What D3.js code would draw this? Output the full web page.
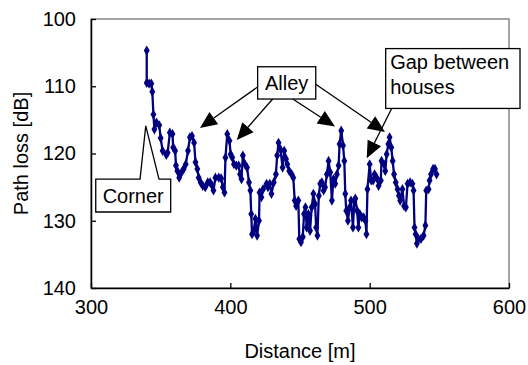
<!DOCTYPE html>
<html>
<head>
<meta charset="utf-8">
<script src="https://cdn.jsdelivr.net/npm/d3@7"></script>
<style>
  html, body { margin: 0; padding: 0; background: #fff; }
  svg { display: block; font-family: "Liberation Sans", Arial, sans-serif; }
</style>
</head>
<body>
<svg id="chart" width="528" height="365"></svg>
<script>
// measured path loss along the route
const distance = [
  340, 340, 341.7, 343.3, 344, 344.8, 345.5, 347, 349, 350, 351.4, 354, 355, 356.6, 358.5, 359,
  360.4, 361, 362, 363.3, 365, 366.5, 368, 369.6, 371, 372.5, 374, 375, 376.3, 377.3, 378.7, 380.2,
  382, 383.8, 385.5, 387, 387.9, 389.3, 391.7, 393.4, 394.6, 395.8, 396.5, 397.8, 399.4, 400.2,
  401.4, 402.6, 404.3, 406, 407, 408, 409, 410.5, 412, 413.4, 414.4, 415, 415.6, 416.8, 418, 419.2,
  420.6, 421, 422.3, 423.5, 426, 427, 428.3, 429.5, 431.2, 432.7, 433.6, 434.6, 436, 437.5, 438.7,
  440, 440.9, 442.3, 444, 445.2, 446.2, 447.2, 448.8, 449.5, 450.7, 452, 452.9, 453.9, 454.8, 456,
  457.2, 458.4, 459.6, 460.8, 461.6, 462.5, 463.5, 464.5, 465.7, 466.9, 468, 469.3, 470.5, 471.7,
  472.9, 474, 475.3, 476.5, 477.7, 478.4, 479.6, 480.9, 481.8, 482.5, 483.2, 484.4, 485.6, 486.6,
  488, 489, 489.7, 491, 491.9, 492.9, 494.3, 495.7, 497, 497.7, 498.4, 500, 501.1, 502.5, 503.5,
  505, 506.4, 508, 508.5, 510.3, 511.2, 512.2, 513.4, 514.3, 515.5, 516.5, 517.5, 518.7, 520, 521,
  521.9, 523.5, 524.7, 526, 527.2, 529, 530.7, 531.5, 532.2, 533, 533.9, 535, 536.8, 538.7, 540,
  540.6, 542.3, 543, 544, 545.5, 546.9, 548
];
const pathLoss = [
  104.7, 109.5, 109.6, 109.6, 110.8, 114.2, 116.4, 115.4, 115.8, 117.7, 119.6, 120.2, 119.9, 116.9, 117.1, 119.1,
  119.6, 121.8, 122.6, 123.6, 122.8, 122.3, 121.6, 119.6, 117.6, 117.4, 118.4, 121.3, 122.3, 123.6, 124.3, 124.8,
  125, 124.3, 124.3, 124.8, 125.5, 123.6, 123.6, 123.7, 125, 125.8, 120.6, 117.1, 118.1, 120.1,
  120.6, 121.6, 121.8, 121.8, 123.1, 123.8, 120.3, 121.6, 122.1, 124.3, 125.5, 129, 132, 131.5, 129.7, 132.2,
  130, 125.8, 126.5, 125.3, 124.5, 125, 124.5, 126, 124.3, 123.1, 120.3, 118.4, 119.4, 122.1, 119.6,
  120.8, 121.6, 122.6, 123.1, 123.6, 127, 127.8, 127, 132.7, 133.2, 132.4, 129, 128, 131, 129,
  131.5, 128, 126, 127.5, 131, 132.2, 126.3, 124.5, 124.3, 125.5, 125, 123.1, 121.1, 122.8,
  127, 123.8, 124.5, 123.1, 121.8, 118.6, 116.6, 118.8, 121.1, 126, 128.5, 130, 128, 127,
  131, 127, 126.7, 128.5, 131, 129, 129.5, 129.5, 130, 132, 125.3, 121.6, 124, 124, 123.1,
  123.6, 124.8, 124, 121.1, 121.6, 122.6, 120.1, 118.6, 117.6, 119.1, 121.1, 123.1, 124.3, 125.3, 126.3,
  127, 125.3, 127.8, 128, 124.5, 124.3, 124.5, 125.5, 131, 132, 133.4, 132.7, 132.7, 132.2, 130.7,
  125.5, 125.3, 124, 123.1, 122.3, 122.3, 123.1
];
const xTicks = [300, 400, 500, 600];
const yTicks = [100, 110, 120, 130, 140];

// callouts, in data units (distance, dB)
const alleyBox = { x0: 419.6, x1: 461.3, y0: 107.1, y1: 111.9 };
const alleyArrows = [
  { from: [419.6, 110.1], to: [378.2, 116.2] },
  { from: [430.4, 111.9], to: [404.6, 118.0] },
  { from: [444.8, 111.9], to: [475.1, 116.0] },
  { from: [461.3, 109.7], to: [511.0, 116.8] }
];
const gapBox = { x0: 511.5, x1: 607.9, y0: 104.4, y1: 113.3 };
const gapArrow = { from: [515.8, 113.3], to: [497.9, 120.7] };
const cornerBox = { x0: 303.4, x1: 357.2, y0: 123.8, y1: 128.7 };
const cornerPointer = { left: 335.2, right: 348.8, apex: [339.3, 115.9] };

const svg = d3.select('#chart');
const margin = { top: 19, right: 19, bottom: 77, left: 91 };
const width = 528, height = 365;

const x = d3.scaleLinear().domain([300, 600]).range([margin.left, width - margin.right]);
const y = d3.scaleLinear().domain([100, 140]).range([margin.top, height - margin.bottom]);

const fontSize = 20;

// plot frame: grey top/right, black axes
svg.append('rect')
  .attr('x', x(300)).attr('y', y(100))
  .attr('width', x(600) - x(300)).attr('height', y(140) - y(100))
  .attr('fill', 'none').attr('stroke', '#888').attr('stroke-width', 1.5);

const xAxis = d3.axisBottom(x).tickValues(xTicks).tickSizeInner(-5).tickSizeOuter(0).tickPadding(12);
const yAxis = d3.axisLeft(y).tickValues(yTicks).tickSizeInner(-5).tickSizeOuter(0).tickPadding(15);

const gx = svg.append('g').attr('transform', `translate(0,${y(140)})`).call(xAxis);
const gy = svg.append('g').attr('transform', `translate(${x(300)},0)`).call(yAxis);

[gx, gy].forEach(g => {
  g.select('.domain').attr('stroke', '#000').attr('stroke-width', 1.5);
  g.selectAll('.tick line').attr('stroke', '#000').attr('stroke-width', 1.3);
  g.selectAll('.tick text')
    .attr('fill', '#000')
    .style('font-size', fontSize + 'px')
    .style('font-family', '"Liberation Sans", Arial, sans-serif');
});

// axis titles
svg.append('text')
  .attr('x', (x(300) + x(600)) / 2)
  .attr('y', 358)
  .attr('text-anchor', 'middle')
  .style('font-size', fontSize + 'px')
  .text('Distance [m]');

svg.append('text')
  .attr('transform', `translate(28,${(y(100) + y(140)) / 2}) rotate(-90)`)
  .attr('text-anchor', 'middle')
  .style('font-size', fontSize + 'px')
  .text('Path loss [dB]');

// series
const points = distance.map((d, i) => ({ d, v: pathLoss[i] }));
const line = d3.line().x(p => x(p.d)).y(p => y(p.v));

svg.append('path')
  .datum(points)
  .attr('d', line)
  .attr('fill', 'none')
  .attr('stroke', '#000080')
  .attr('stroke-width', 2.3)
  .attr('stroke-linejoin', 'round');

svg.append('g')
  .selectAll('path')
  .data(points)
  .enter()
  .append('path')
  .attr('transform', p => `translate(${x(p.d)},${y(p.v)})`)
  .attr('d', d3.symbol().type(d3.symbolDiamond).size(30))
  .attr('fill', '#000080');

// callouts
const ann = svg.append('g');

function arrow(from, to) {
  const x1 = x(from[0]), y1 = y(from[1]), x2 = x(to[0]), y2 = y(to[1]);
  const ang = Math.atan2(y2 - y1, x2 - x1);
  const len = 17, half = 7.5;
  const bx = x2 - len * Math.cos(ang), by = y2 - len * Math.sin(ang);
  ann.append('line')
    .attr('x1', x1).attr('y1', y1).attr('x2', bx).attr('y2', by)
    .attr('stroke', '#000').attr('stroke-width', 1.3);
  ann.append('polygon')
    .attr('points', [
      [x2, y2],
      [bx + half * Math.sin(ang), by - half * Math.cos(ang)],
      [bx - half * Math.sin(ang), by + half * Math.cos(ang)]
    ].map(p => p.join(',')).join(' '))
    .attr('fill', '#000');
}

function box(b) {
  ann.append('rect')
    .attr('x', x(b.x0)).attr('y', y(b.y0))
    .attr('width', x(b.x1) - x(b.x0)).attr('height', y(b.y1) - y(b.y0))
    .attr('fill', '#fff').attr('stroke', '#000').attr('stroke-width', 1.3);
}

alleyArrows.forEach(a => arrow(a.from, a.to));
arrow(gapArrow.from, gapArrow.to);

box(alleyBox);
ann.append('text')
  .attr('x', (x(alleyBox.x0) + x(alleyBox.x1)) / 2)
  .attr('y', (y(alleyBox.y0) + y(alleyBox.y1)) / 2 + 7)
  .attr('text-anchor', 'middle')
  .style('font-size', fontSize + 'px')
  .text('Alley');

box(gapBox);
ann.append('text')
  .attr('x', x(gapBox.x0) + 4.5)
  .attr('y', y(gapBox.y0) + 20)
  .style('font-size', fontSize + 'px')
  .text('Gap between');
ann.append('text')
  .attr('x', x(gapBox.x0) + 4.5)
  .attr('y', y(gapBox.y0) + 45)
  .style('font-size', fontSize + 'px')
  .text('houses');

// corner callout: box with a pointed tail
const cx0 = x(cornerBox.x0), cx1 = x(cornerBox.x1);
const cy0 = y(cornerBox.y0), cy1 = y(cornerBox.y1);
const tl = x(cornerPointer.left), tr = x(cornerPointer.right);
ann.append('path')
  .attr('d', `M${cx0},${cy0} L${tl},${cy0} L${x(cornerPointer.apex[0])},${y(cornerPointer.apex[1])} ` +
    `L${tr},${cy0} L${cx1},${cy0} L${cx1},${cy1} L${cx0},${cy1} Z`)
  .attr('fill', '#fff').attr('stroke', '#000').attr('stroke-width', 1.3)
  .attr('stroke-linejoin', 'miter');
ann.append('text')
  .attr('x', (cx0 + cx1) / 2)
  .attr('y', (cy0 + cy1) / 2 + 7)
  .attr('text-anchor', 'middle')
  .style('font-size', fontSize + 'px')
  .text('Corner');
</script>
</body>
</html>
